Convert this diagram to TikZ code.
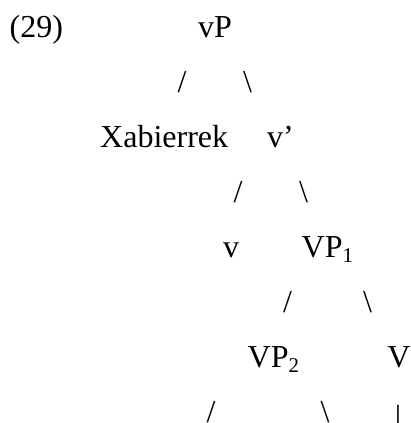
\documentclass[tikz,border=0pt]{standalone}
\usepackage{fontspec}
\setmainfont{Liberation Serif}
\usetikzlibrary{positioning}
\newcommand{\subidx}[1]{\raisebox{-5pt}{\fontsize{21}{21}\selectfont #1}}

\begin{document}
\begin{tikzpicture}[x=1pt,y=1pt,
  label/.style={inner sep=0pt,anchor=base west,font=\fontsize{32}{38}\selectfont},
  branch/.style={inner sep=0pt,anchor=base,font=\fontsize{32}{38}\selectfont}]
\useasboundingbox (0,0) rectangle (411,-423);
% example number and root
\node[label] (num) at (9.5,-37) {(29)};
\node[label] (vP) at (198,-37) {vP};
\node[branch] (vPl) at (182,-92) {/};
\node[branch] (vPr) at (247.5,-92) {\textbackslash};

% specifier and v'
\node[label] (spec) at (100,-147) {Xabierrek};
\node[label] (vbar) at (267,-147) {v’};
\node[branch] (vbarl) at (238,-202) {/};
\node[branch] (vbarr) at (303.5,-202) {\textbackslash};

% v and VP1
\node[branch] (v) at (231,-257) {v};
\node[label] (VPa) at (301.5,-257) {VP\subidx{1}};
\node[branch] (VPal) at (287.5,-312) {/};
\node[branch] (VPar) at (367.5,-312) {\textbackslash};

% VP2 and V
\node[label] (VPb) at (247.5,-367) {VP\subidx{2}};
\node[branch] (V) at (399,-367) {V};
\node[branch] (VPbl) at (211,-422) {/};
\node[branch] (VPbr) at (325,-422) {\textbackslash};
\node[branch] (Vbar) at (398,-427) {|};
\end{tikzpicture}
\end{document}
